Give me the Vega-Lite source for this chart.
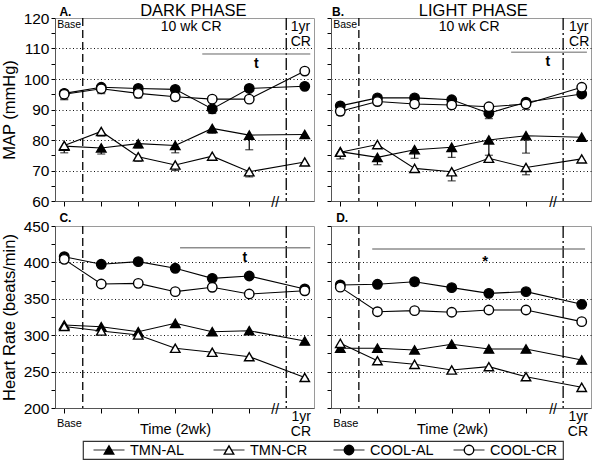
{
  "$schema": "https://vega.github.io/schema/vega-lite/v6.json",
  "padding": {"left": 0, "top": 2, "right": 0, "bottom": 0},
  "autosize": {"type": "pad"},
  "config": {
    "font": "Liberation Sans",
    "view": {"stroke": "#9a9a9a", "strokeWidth": 1},
    "axis": {"domainColor": "#555", "domainWidth": 1, "tickColor": "#000", "tickWidth": 1, "tickSize": 4, "labelFontSize": 15.5, "labelColor": "#000", "labelPadding": 2, "titleFontSize": 16.5, "titleFontWeight": "normal", "titleColor": "#000", "titlePadding": 6, "grid": false}
  },
  "datasets": {
    "series": [
      {"panel": "A", "series": "TMN-AL", "t": 0, "v": 78.0, "lo": 75.8},
      {"panel": "A", "series": "TMN-AL", "t": 1, "v": 77.4, "lo": 75.4},
      {"panel": "A", "series": "TMN-AL", "t": 2, "v": 78.8, "lo": 77.4},
      {"panel": "A", "series": "TMN-AL", "t": 3, "v": 78.2, "lo": 75.8},
      {"panel": "A", "series": "TMN-AL", "t": 4, "v": 83.8, "lo": 82.2},
      {"panel": "A", "series": "TMN-AL", "t": 5, "v": 81.6, "lo": 76.8},
      {"panel": "A", "series": "TMN-AL", "t": 6.5, "v": 81.8, "lo": 80.6},
      {"panel": "A", "series": "TMN-CR", "t": 0, "v": 78.2, "lo": 76.6},
      {"panel": "A", "series": "TMN-CR", "t": 1, "v": 82.8, "lo": 81.3},
      {"panel": "A", "series": "TMN-CR", "t": 2, "v": 74.5, "lo": 73.0},
      {"panel": "A", "series": "TMN-CR", "t": 3, "v": 71.8, "lo": 70.0},
      {"panel": "A", "series": "TMN-CR", "t": 4, "v": 74.7, "lo": 73.8},
      {"panel": "A", "series": "TMN-CR", "t": 5, "v": 69.6, "lo": 67.9},
      {"panel": "A", "series": "TMN-CR", "t": 6.5, "v": 72.8, "lo": 72.0},
      {"panel": "A", "series": "COOL-AL", "t": 0, "v": 95.3, "lo": 93.2},
      {"panel": "A", "series": "COOL-AL", "t": 1, "v": 97.3, "lo": 95.6},
      {"panel": "A", "series": "COOL-AL", "t": 2, "v": 96.9, "lo": 95.9},
      {"panel": "A", "series": "COOL-AL", "t": 3, "v": 96.6, "lo": 95.6},
      {"panel": "A", "series": "COOL-AL", "t": 4, "v": 90.2, "lo": 88.7},
      {"panel": "A", "series": "COOL-AL", "t": 5, "v": 96.9, "lo": 96.0},
      {"panel": "A", "series": "COOL-AL", "t": 6.5, "v": 97.6, "lo": 97.0},
      {"panel": "A", "series": "COOL-CR", "t": 0, "v": 95.0, "lo": 93.5},
      {"panel": "A", "series": "COOL-CR", "t": 1, "v": 96.8, "lo": 95.2},
      {"panel": "A", "series": "COOL-CR", "t": 2, "v": 95.3, "lo": 93.8},
      {"panel": "A", "series": "COOL-CR", "t": 3, "v": 94.2, "lo": 92.9},
      {"panel": "A", "series": "COOL-CR", "t": 4, "v": 93.4, "lo": 92.8},
      {"panel": "A", "series": "COOL-CR", "t": 5, "v": 93.4, "lo": 92.3},
      {"panel": "A", "series": "COOL-CR", "t": 6.5, "v": 102.6, "lo": 102.0},
      {"panel": "B", "series": "TMN-AL", "t": 0, "v": 76.2, "lo": 73.8},
      {"panel": "B", "series": "TMN-AL", "t": 1, "v": 74.3, "lo": 71.9},
      {"panel": "B", "series": "TMN-AL", "t": 2, "v": 76.8, "lo": 74.0},
      {"panel": "B", "series": "TMN-AL", "t": 3, "v": 77.6, "lo": 74.3},
      {"panel": "B", "series": "TMN-AL", "t": 4, "v": 80.0, "lo": 75.0},
      {"panel": "B", "series": "TMN-AL", "t": 5, "v": 81.4, "lo": 75.7},
      {"panel": "B", "series": "TMN-AL", "t": 6.5, "v": 80.9, "lo": 80.0},
      {"panel": "B", "series": "TMN-CR", "t": 0, "v": 76.0, "lo": 75.0},
      {"panel": "B", "series": "TMN-CR", "t": 1, "v": 78.5, "lo": 77.5},
      {"panel": "B", "series": "TMN-CR", "t": 2, "v": 70.7, "lo": 69.5},
      {"panel": "B", "series": "TMN-CR", "t": 3, "v": 69.6, "lo": 66.6},
      {"panel": "B", "series": "TMN-CR", "t": 4, "v": 74.0, "lo": 73.0},
      {"panel": "B", "series": "TMN-CR", "t": 5, "v": 71.0, "lo": 68.6},
      {"panel": "B", "series": "TMN-CR", "t": 6.5, "v": 73.8, "lo": 73.2},
      {"panel": "B", "series": "COOL-AL", "t": 0, "v": 91.2, "lo": 90.0},
      {"panel": "B", "series": "COOL-AL", "t": 1, "v": 93.8, "lo": 93.0},
      {"panel": "B", "series": "COOL-AL", "t": 2, "v": 93.8, "lo": 93.0},
      {"panel": "B", "series": "COOL-AL", "t": 3, "v": 93.2, "lo": 92.0},
      {"panel": "B", "series": "COOL-AL", "t": 4, "v": 88.8, "lo": 87.0},
      {"panel": "B", "series": "COOL-AL", "t": 5, "v": 92.4, "lo": 91.6},
      {"panel": "B", "series": "COOL-AL", "t": 6.5, "v": 95.1, "lo": 94.6},
      {"panel": "B", "series": "COOL-CR", "t": 0, "v": 89.4, "lo": 88.2},
      {"panel": "B", "series": "COOL-CR", "t": 1, "v": 92.6, "lo": 91.8},
      {"panel": "B", "series": "COOL-CR", "t": 2, "v": 91.8, "lo": 90.7},
      {"panel": "B", "series": "COOL-CR", "t": 3, "v": 91.5, "lo": 90.4},
      {"panel": "B", "series": "COOL-CR", "t": 4, "v": 90.9, "lo": 90.2},
      {"panel": "B", "series": "COOL-CR", "t": 5, "v": 91.8, "lo": 90.0},
      {"panel": "B", "series": "COOL-CR", "t": 6.5, "v": 97.3, "lo": 96.8},
      {"panel": "C", "series": "TMN-AL", "t": 0, "v": 314, "lo": 310},
      {"panel": "C", "series": "TMN-AL", "t": 1, "v": 311.7, "lo": 308},
      {"panel": "C", "series": "TMN-AL", "t": 2, "v": 304.8, "lo": 301},
      {"panel": "C", "series": "TMN-AL", "t": 3, "v": 316.3, "lo": 313},
      {"panel": "C", "series": "TMN-AL", "t": 4, "v": 304.8, "lo": 302},
      {"panel": "C", "series": "TMN-AL", "t": 5, "v": 306.2, "lo": 303},
      {"panel": "C", "series": "TMN-AL", "t": 6.5, "v": 292, "lo": 290},
      {"panel": "C", "series": "TMN-CR", "t": 0, "v": 312, "lo": 309},
      {"panel": "C", "series": "TMN-CR", "t": 1, "v": 305.8, "lo": 302},
      {"panel": "C", "series": "TMN-CR", "t": 2, "v": 300.3, "lo": 295.8},
      {"panel": "C", "series": "TMN-CR", "t": 3, "v": 282, "lo": 278},
      {"panel": "C", "series": "TMN-CR", "t": 4, "v": 276.5, "lo": 274},
      {"panel": "C", "series": "TMN-CR", "t": 5, "v": 270.5, "lo": 268},
      {"panel": "C", "series": "TMN-CR", "t": 6.5, "v": 242, "lo": 240},
      {"panel": "C", "series": "COOL-AL", "t": 0, "v": 407.8, "lo": 404},
      {"panel": "C", "series": "COOL-AL", "t": 1, "v": 397.4, "lo": 395},
      {"panel": "C", "series": "COOL-AL", "t": 2, "v": 401, "lo": 398},
      {"panel": "C", "series": "COOL-AL", "t": 3, "v": 391.9, "lo": 388},
      {"panel": "C", "series": "COOL-AL", "t": 4, "v": 378.1, "lo": 375},
      {"panel": "C", "series": "COOL-AL", "t": 5, "v": 381.3, "lo": 379},
      {"panel": "C", "series": "COOL-AL", "t": 6.5, "v": 363.5, "lo": 361},
      {"panel": "C", "series": "COOL-CR", "t": 0, "v": 404.2, "lo": 401},
      {"panel": "C", "series": "COOL-CR", "t": 1, "v": 370.3, "lo": 368},
      {"panel": "C", "series": "COOL-CR", "t": 2, "v": 371.2, "lo": 369},
      {"panel": "C", "series": "COOL-CR", "t": 3, "v": 359.8, "lo": 357},
      {"panel": "C", "series": "COOL-CR", "t": 4, "v": 365.8, "lo": 363},
      {"panel": "C", "series": "COOL-CR", "t": 5, "v": 356.6, "lo": 354},
      {"panel": "C", "series": "COOL-CR", "t": 6.5, "v": 361, "lo": 359},
      {"panel": "D", "series": "TMN-AL", "t": 0, "v": 282, "lo": 279},
      {"panel": "D", "series": "TMN-AL", "t": 1, "v": 282, "lo": 280},
      {"panel": "D", "series": "TMN-AL", "t": 2, "v": 279.7, "lo": 277},
      {"panel": "D", "series": "TMN-AL", "t": 3, "v": 287.5, "lo": 285},
      {"panel": "D", "series": "TMN-AL", "t": 4, "v": 281, "lo": 279},
      {"panel": "D", "series": "TMN-AL", "t": 5, "v": 281, "lo": 279},
      {"panel": "D", "series": "TMN-AL", "t": 6.5, "v": 265.9, "lo": 264},
      {"panel": "D", "series": "TMN-CR", "t": 0, "v": 288.8, "lo": 286},
      {"panel": "D", "series": "TMN-CR", "t": 1, "v": 265, "lo": 260},
      {"panel": "D", "series": "TMN-CR", "t": 2, "v": 260, "lo": 257},
      {"panel": "D", "series": "TMN-CR", "t": 3, "v": 252.2, "lo": 250},
      {"panel": "D", "series": "TMN-CR", "t": 4, "v": 256.8, "lo": 254},
      {"panel": "D", "series": "TMN-CR", "t": 5, "v": 243, "lo": 241},
      {"panel": "D", "series": "TMN-CR", "t": 6.5, "v": 228.4, "lo": 227},
      {"panel": "D", "series": "COOL-AL", "t": 0, "v": 369, "lo": 364},
      {"panel": "D", "series": "COOL-AL", "t": 1, "v": 369.9, "lo": 368},
      {"panel": "D", "series": "COOL-AL", "t": 2, "v": 373.5, "lo": 368},
      {"panel": "D", "series": "COOL-AL", "t": 3, "v": 365.3, "lo": 363},
      {"panel": "D", "series": "COOL-AL", "t": 4, "v": 357.5, "lo": 356},
      {"panel": "D", "series": "COOL-AL", "t": 5, "v": 359.8, "lo": 358},
      {"panel": "D", "series": "COOL-AL", "t": 6.5, "v": 342.4, "lo": 341},
      {"panel": "D", "series": "COOL-CR", "t": 0, "v": 366, "lo": 364},
      {"panel": "D", "series": "COOL-CR", "t": 1, "v": 332.3, "lo": 331},
      {"panel": "D", "series": "COOL-CR", "t": 2, "v": 333.7, "lo": 332},
      {"panel": "D", "series": "COOL-CR", "t": 3, "v": 331.5, "lo": 330},
      {"panel": "D", "series": "COOL-CR", "t": 4, "v": 334.6, "lo": 333},
      {"panel": "D", "series": "COOL-CR", "t": 5, "v": 334.6, "lo": 333},
      {"panel": "D", "series": "COOL-CR", "t": 6.5, "v": 318.6, "lo": 317}
    ],
    "phases": [
      {"x": 0.5, "type": "start"},
      {"x": 6, "type": "break"}
    ],
    "sig": [
      {"panel": "A", "x": 3.73, "x2": 6.65, "y": 108.2, "lx": 5.19, "ly": 104.9, "label": "t"},
      {"panel": "B", "x": 4.6, "x2": 6.64, "y": 108.8, "lx": 5.59, "ly": 105.6, "label": "t"},
      {"panel": "C", "x": 3.13, "x2": 6.65, "y": 420, "lx": 4.88, "ly": 406, "label": "t"},
      {"panel": "D", "x": 0.86, "x2": 6.59, "y": 418.4, "lx": 3.9, "ly": 402, "label": "*"}
    ],
    "notes": [
      {"panel": "A", "x": -0.13, "y": 120.65, "text": "A.", "kind": "panel"},
      {"panel": "A", "x": 3.49, "y": 120.75, "text": "DARK PHASE", "kind": "phase"},
      {"panel": "A", "x": -0.19, "y": 119.4, "text": "Base", "kind": "base"},
      {"panel": "A", "x": 3.43, "y": 119.4, "text": "10 wk CR", "kind": "period"},
      {"panel": "A", "x": 6.12, "y": 119.4, "text": "1yr\nCR", "kind": "year"},
      {"panel": "A", "x": 5.7, "y": 59.3, "text": "//", "kind": "break"},
      {"panel": "B", "x": -0.22, "y": 120.65, "text": "B.", "kind": "panel"},
      {"panel": "B", "x": 3.58, "y": 120.75, "text": "LIGHT PHASE", "kind": "phase"},
      {"panel": "B", "x": -0.19, "y": 119.4, "text": "Base", "kind": "base"},
      {"panel": "B", "x": 3.47, "y": 119.4, "text": "10 wk CR", "kind": "period"},
      {"panel": "B", "x": 6.16, "y": 119.4, "text": "1yr\nCR", "kind": "year"},
      {"panel": "B", "x": 5.73, "y": 59.3, "text": "//", "kind": "break"},
      {"panel": "C", "x": -0.13, "y": 455.9, "text": "C.", "kind": "panel"},
      {"panel": "C", "x": 0.14, "y": 186.3, "text": "Base", "kind": "baseAxis"},
      {"panel": "C", "x": 6.67, "y": 197.9, "text": "1yr\nCR", "kind": "yearAxis"},
      {"panel": "C", "x": 5.7, "y": 197.5, "text": "//", "kind": "break"},
      {"panel": "D", "x": -0.11, "y": 455.9, "text": "D.", "kind": "panel"},
      {"panel": "D", "x": 0.15, "y": 186.3, "text": "Base", "kind": "baseAxis"},
      {"panel": "D", "x": 6.67, "y": 197.9, "text": "1yr\nCR", "kind": "yearAxis"},
      {"panel": "D", "x": 5.73, "y": 197.5, "text": "//", "kind": "break"}
    ],
    "legendItems": [
      {"series": "TMN-AL"}, {"series": "TMN-CR"}, {"series": "COOL-AL"}, {"series": "COOL-CR"}
    ]
  },
  "spacing": 0,
  "vconcat": [
    {
      "spacing": 11,
      "hconcat": [
        {
          "width": 259, "height": 183,
          "layer": [
            {"data": {"name": "phases"}, "mark": {"type": "rule", "color": "black", "strokeWidth": 1.3},
             "encoding": {"x": {"field": "x", "type": "quantitative", "scale": {"domain": [-0.25, 6.75], "nice": false, "zero": false}, "axis": {"values": [0, 1, 2, 3, 4, 5], "labels": false, "title": null, "tickSize": 5}},
               "strokeDash": {"field": "type", "type": "nominal", "scale": {"domain": ["start", "break"], "range": [[8, 4], [12, 3, 2, 3]]}, "legend": null}}},
            {"data": {"name": "sig"}, "transform": [{"filter": "datum.panel == 'A'"}], "mark": {"type": "rule", "color": "#666", "strokeWidth": 1},
             "encoding": {"x": {"field": "x", "type": "quantitative", "scale": {"domain": [-0.25, 6.75], "nice": false, "zero": false}, "axis": {"values": [0, 1, 2, 3, 4, 5], "labels": false, "title": null, "tickSize": 5}}, "x2": {"field": "x2"},
               "y": {"field": "y", "type": "quantitative", "scale": {"domain": [60, 120], "nice": false, "zero": false}, "axis": {"values": [60, 65, 70, 75, 80, 85, 90, 95, 100, 105, 110, 115, 120], "labelExpr": "datum.value % 10 == 0 ? datum.label : ''", "title": "MAP (mmHg)", "grid": true, "gridDash": [1, 2.5], "gridColor": "#111", "gridOpacity": {"condition": {"test": "datum.value % 10 == 0 && datum.value > 60 && datum.value < 120", "value": 1}, "value": 0}}}}},
            {"data": {"name": "sig"}, "transform": [{"filter": "datum.panel == 'A'"}], "mark": {"type": "text", "fontWeight": "bold", "fontSize": 14, "baseline": "middle"},
             "encoding": {"x": {"field": "lx", "type": "quantitative", "scale": {"domain": [-0.25, 6.75], "nice": false, "zero": false}, "axis": {"values": [0, 1, 2, 3, 4, 5], "labels": false, "title": null, "tickSize": 5}},
               "y": {"field": "ly", "type": "quantitative", "scale": {"domain": [60, 120], "nice": false, "zero": false}, "axis": {"values": [60, 65, 70, 75, 80, 85, 90, 95, 100, 105, 110, 115, 120], "labelExpr": "datum.value % 10 == 0 ? datum.label : ''", "title": "MAP (mmHg)", "grid": true, "gridDash": [1, 2.5], "gridColor": "#111", "gridOpacity": {"condition": {"test": "datum.value % 10 == 0 && datum.value > 60 && datum.value < 120", "value": 1}, "value": 0}}}, "text": {"field": "label"}}},
            {"data": {"name": "series"}, "transform": [{"filter": "datum.panel == 'A'"}], "mark": {"type": "line", "color": "black", "strokeWidth": 1.1},
             "encoding": {"x": {"field": "t", "type": "quantitative", "scale": {"domain": [-0.25, 6.75], "nice": false, "zero": false}, "axis": {"values": [0, 1, 2, 3, 4, 5], "labels": false, "title": null, "tickSize": 5}},
               "y": {"field": "v", "type": "quantitative", "scale": {"domain": [60, 120], "nice": false, "zero": false}, "axis": {"values": [60, 65, 70, 75, 80, 85, 90, 95, 100, 105, 110, 115, 120], "labelExpr": "datum.value % 10 == 0 ? datum.label : ''", "title": "MAP (mmHg)", "grid": true, "gridDash": [1, 2.5], "gridColor": "#111", "gridOpacity": {"condition": {"test": "datum.value % 10 == 0 && datum.value > 60 && datum.value < 120", "value": 1}, "value": 0}}},
               "detail": {"field": "series"}}},
            {"data": {"name": "series"}, "transform": [{"filter": "datum.panel == 'A'"}], "mark": {"type": "rule", "color": "black", "strokeWidth": 1.2},
             "encoding": {"x": {"field": "t", "type": "quantitative", "scale": {"domain": [-0.25, 6.75], "nice": false, "zero": false}, "axis": {"values": [0, 1, 2, 3, 4, 5], "labels": false, "title": null, "tickSize": 5}},
               "y": {"field": "lo", "type": "quantitative", "scale": {"domain": [60, 120], "nice": false, "zero": false}, "axis": {"values": [60, 65, 70, 75, 80, 85, 90, 95, 100, 105, 110, 115, 120], "labelExpr": "datum.value % 10 == 0 ? datum.label : ''", "title": "MAP (mmHg)", "grid": true, "gridDash": [1, 2.5], "gridColor": "#111", "gridOpacity": {"condition": {"test": "datum.value % 10 == 0 && datum.value > 60 && datum.value < 120", "value": 1}, "value": 0}}}, "y2": {"field": "v"}}},
            {"data": {"name": "series"}, "transform": [{"filter": "datum.panel == 'A'"}], "mark": {"type": "tick", "orient": "horizontal", "color": "black", "size": 8, "thickness": 1.2},
             "encoding": {"x": {"field": "t", "type": "quantitative", "scale": {"domain": [-0.25, 6.75], "nice": false, "zero": false}, "axis": {"values": [0, 1, 2, 3, 4, 5], "labels": false, "title": null, "tickSize": 5}},
               "y": {"field": "lo", "type": "quantitative", "scale": {"domain": [60, 120], "nice": false, "zero": false}, "axis": {"values": [60, 65, 70, 75, 80, 85, 90, 95, 100, 105, 110, 115, 120], "labelExpr": "datum.value % 10 == 0 ? datum.label : ''", "title": "MAP (mmHg)", "grid": true, "gridDash": [1, 2.5], "gridColor": "#111", "gridOpacity": {"condition": {"test": "datum.value % 10 == 0 && datum.value > 60 && datum.value < 120", "value": 1}, "value": 0}}}}},
            {"data": {"name": "series"}, "transform": [{"filter": "datum.panel == 'A'"}], "mark": {"type": "point", "filled": true, "size": 90, "stroke": "black", "strokeWidth": 1.4, "opacity": 1},
             "encoding": {"x": {"field": "t", "type": "quantitative", "scale": {"domain": [-0.25, 6.75], "nice": false, "zero": false}, "axis": {"values": [0, 1, 2, 3, 4, 5], "labels": false, "title": null, "tickSize": 5}},
               "y": {"field": "v", "type": "quantitative", "scale": {"domain": [60, 120], "nice": false, "zero": false}, "axis": {"values": [60, 65, 70, 75, 80, 85, 90, 95, 100, 105, 110, 115, 120], "labelExpr": "datum.value % 10 == 0 ? datum.label : ''", "title": "MAP (mmHg)", "grid": true, "gridDash": [1, 2.5], "gridColor": "#111", "gridOpacity": {"condition": {"test": "datum.value % 10 == 0 && datum.value > 60 && datum.value < 120", "value": 1}, "value": 0}}},
               "shape": {"field": "series", "type": "nominal", "scale": {"domain": ["TMN-AL", "TMN-CR", "COOL-AL", "COOL-CR"], "range": ["triangle-up", "triangle-up", "circle", "circle"]}, "legend": null},
               "fill": {"field": "series", "type": "nominal", "scale": {"domain": ["TMN-AL", "TMN-CR", "COOL-AL", "COOL-CR"], "range": ["black", "white", "black", "white"]}, "legend": null}}},
            {"data": {"name": "notes"}, "transform": [{"filter": "datum.panel == 'A' && datum.kind == 'panel'"}], "mark": {"type": "text", "fontWeight": "bold", "fontSize": 12, "align": "left", "baseline": "alphabetic"},
             "encoding": {"x": {"field": "x", "type": "quantitative", "scale": {"domain": [-0.25, 6.75], "nice": false, "zero": false}, "axis": {"values": [0, 1, 2, 3, 4, 5], "labels": false, "title": null, "tickSize": 5}},
               "y": {"field": "y", "type": "quantitative", "scale": {"domain": [60, 120], "nice": false, "zero": false}, "axis": {"values": [60, 65, 70, 75, 80, 85, 90, 95, 100, 105, 110, 115, 120], "labelExpr": "datum.value % 10 == 0 ? datum.label : ''", "title": "MAP (mmHg)", "grid": true, "gridDash": [1, 2.5], "gridColor": "#111", "gridOpacity": {"condition": {"test": "datum.value % 10 == 0 && datum.value > 60 && datum.value < 120", "value": 1}, "value": 0}}}, "text": {"field": "text"}}},
            {"data": {"name": "notes"}, "transform": [{"filter": "datum.panel == 'A' && datum.kind == 'phase'"}], "mark": {"type": "text", "fontSize": 16.5, "align": "center", "baseline": "alphabetic"},
             "encoding": {"x": {"field": "x", "type": "quantitative", "scale": {"domain": [-0.25, 6.75], "nice": false, "zero": false}, "axis": {"values": [0, 1, 2, 3, 4, 5], "labels": false, "title": null, "tickSize": 5}},
               "y": {"field": "y", "type": "quantitative", "scale": {"domain": [60, 120], "nice": false, "zero": false}, "axis": {"values": [60, 65, 70, 75, 80, 85, 90, 95, 100, 105, 110, 115, 120], "labelExpr": "datum.value % 10 == 0 ? datum.label : ''", "title": "MAP (mmHg)", "grid": true, "gridDash": [1, 2.5], "gridColor": "#111", "gridOpacity": {"condition": {"test": "datum.value % 10 == 0 && datum.value > 60 && datum.value < 120", "value": 1}, "value": 0}}}, "text": {"field": "text"}}},
            {"data": {"name": "notes"}, "transform": [{"filter": "datum.panel == 'A' && datum.kind == 'base'"}], "mark": {"type": "text", "fontSize": 10.5, "align": "left", "baseline": "top"},
             "encoding": {"x": {"field": "x", "type": "quantitative", "scale": {"domain": [-0.25, 6.75], "nice": false, "zero": false}, "axis": {"values": [0, 1, 2, 3, 4, 5], "labels": false, "title": null, "tickSize": 5}},
               "y": {"field": "y", "type": "quantitative", "scale": {"domain": [60, 120], "nice": false, "zero": false}, "axis": {"values": [60, 65, 70, 75, 80, 85, 90, 95, 100, 105, 110, 115, 120], "labelExpr": "datum.value % 10 == 0 ? datum.label : ''", "title": "MAP (mmHg)", "grid": true, "gridDash": [1, 2.5], "gridColor": "#111", "gridOpacity": {"condition": {"test": "datum.value % 10 == 0 && datum.value > 60 && datum.value < 120", "value": 1}, "value": 0}}}, "text": {"field": "text"}}},
            {"data": {"name": "notes"}, "transform": [{"filter": "datum.panel == 'A' && datum.kind == 'period'"}], "mark": {"type": "text", "fontSize": 14, "align": "center", "baseline": "top"},
             "encoding": {"x": {"field": "x", "type": "quantitative", "scale": {"domain": [-0.25, 6.75], "nice": false, "zero": false}, "axis": {"values": [0, 1, 2, 3, 4, 5], "labels": false, "title": null, "tickSize": 5}},
               "y": {"field": "y", "type": "quantitative", "scale": {"domain": [60, 120], "nice": false, "zero": false}, "axis": {"values": [60, 65, 70, 75, 80, 85, 90, 95, 100, 105, 110, 115, 120], "labelExpr": "datum.value % 10 == 0 ? datum.label : ''", "title": "MAP (mmHg)", "grid": true, "gridDash": [1, 2.5], "gridColor": "#111", "gridOpacity": {"condition": {"test": "datum.value % 10 == 0 && datum.value > 60 && datum.value < 120", "value": 1}, "value": 0}}}, "text": {"field": "text"}}},
            {"data": {"name": "notes"}, "transform": [{"filter": "datum.panel == 'A' && datum.kind == 'year'"}], "mark": {"type": "text", "fontSize": 14, "align": "left", "baseline": "top", "lineBreak": "\n", "lineHeight": 15},
             "encoding": {"x": {"field": "x", "type": "quantitative", "scale": {"domain": [-0.25, 6.75], "nice": false, "zero": false}, "axis": {"values": [0, 1, 2, 3, 4, 5], "labels": false, "title": null, "tickSize": 5}},
               "y": {"field": "y", "type": "quantitative", "scale": {"domain": [60, 120], "nice": false, "zero": false}, "axis": {"values": [60, 65, 70, 75, 80, 85, 90, 95, 100, 105, 110, 115, 120], "labelExpr": "datum.value % 10 == 0 ? datum.label : ''", "title": "MAP (mmHg)", "grid": true, "gridDash": [1, 2.5], "gridColor": "#111", "gridOpacity": {"condition": {"test": "datum.value % 10 == 0 && datum.value > 60 && datum.value < 120", "value": 1}, "value": 0}}}, "text": {"field": "text"}}},
            {"data": {"name": "notes"}, "transform": [{"filter": "datum.panel == 'A' && datum.kind == 'break'"}], "mark": {"type": "text", "fontSize": 14, "align": "center", "baseline": "middle"},
             "encoding": {"x": {"field": "x", "type": "quantitative", "scale": {"domain": [-0.25, 6.75], "nice": false, "zero": false}, "axis": {"values": [0, 1, 2, 3, 4, 5], "labels": false, "title": null, "tickSize": 5}},
               "y": {"field": "y", "type": "quantitative", "scale": {"domain": [60, 120], "nice": false, "zero": false}, "axis": {"values": [60, 65, 70, 75, 80, 85, 90, 95, 100, 105, 110, 115, 120], "labelExpr": "datum.value % 10 == 0 ? datum.label : ''", "title": "MAP (mmHg)", "grid": true, "gridDash": [1, 2.5], "gridColor": "#111", "gridOpacity": {"condition": {"test": "datum.value % 10 == 0 && datum.value > 60 && datum.value < 120", "value": 1}, "value": 0}}}, "text": {"field": "text"}}}
          ]
        },
        {
          "width": 260, "height": 183,
          "layer": [
            {"data": {"name": "phases"}, "mark": {"type": "rule", "color": "black", "strokeWidth": 1.3},
             "encoding": {"x": {"field": "x", "type": "quantitative", "scale": {"domain": [-0.25, 6.75], "nice": false, "zero": false}, "axis": {"values": [0, 1, 2, 3, 4, 5], "labels": false, "title": null, "tickSize": 5}},
               "strokeDash": {"field": "type", "type": "nominal", "scale": {"domain": ["start", "break"], "range": [[8, 4], [12, 3, 2, 3]]}, "legend": null}}},
            {"data": {"name": "sig"}, "transform": [{"filter": "datum.panel == 'B'"}], "mark": {"type": "rule", "color": "#666", "strokeWidth": 1},
             "encoding": {"x": {"field": "x", "type": "quantitative", "scale": {"domain": [-0.25, 6.75], "nice": false, "zero": false}, "axis": {"values": [0, 1, 2, 3, 4, 5], "labels": false, "title": null, "tickSize": 5}}, "x2": {"field": "x2"},
               "y": {"field": "y", "type": "quantitative", "scale": {"domain": [60, 120], "nice": false, "zero": false}, "axis": {"values": [60, 65, 70, 75, 80, 85, 90, 95, 100, 105, 110, 115, 120], "labels": false, "title": null, "grid": true, "gridDash": [1, 2.5], "gridColor": "#111", "gridOpacity": {"condition": {"test": "datum.value % 10 == 0 && datum.value > 60 && datum.value < 120", "value": 1}, "value": 0}}}}},
            {"data": {"name": "sig"}, "transform": [{"filter": "datum.panel == 'B'"}], "mark": {"type": "text", "fontWeight": "bold", "fontSize": 14, "baseline": "middle"},
             "encoding": {"x": {"field": "lx", "type": "quantitative", "scale": {"domain": [-0.25, 6.75], "nice": false, "zero": false}, "axis": {"values": [0, 1, 2, 3, 4, 5], "labels": false, "title": null, "tickSize": 5}},
               "y": {"field": "ly", "type": "quantitative", "scale": {"domain": [60, 120], "nice": false, "zero": false}, "axis": {"values": [60, 65, 70, 75, 80, 85, 90, 95, 100, 105, 110, 115, 120], "labels": false, "title": null, "grid": true, "gridDash": [1, 2.5], "gridColor": "#111", "gridOpacity": {"condition": {"test": "datum.value % 10 == 0 && datum.value > 60 && datum.value < 120", "value": 1}, "value": 0}}}, "text": {"field": "label"}}},
            {"data": {"name": "series"}, "transform": [{"filter": "datum.panel == 'B'"}], "mark": {"type": "line", "color": "black", "strokeWidth": 1.1},
             "encoding": {"x": {"field": "t", "type": "quantitative", "scale": {"domain": [-0.25, 6.75], "nice": false, "zero": false}, "axis": {"values": [0, 1, 2, 3, 4, 5], "labels": false, "title": null, "tickSize": 5}},
               "y": {"field": "v", "type": "quantitative", "scale": {"domain": [60, 120], "nice": false, "zero": false}, "axis": {"values": [60, 65, 70, 75, 80, 85, 90, 95, 100, 105, 110, 115, 120], "labels": false, "title": null, "grid": true, "gridDash": [1, 2.5], "gridColor": "#111", "gridOpacity": {"condition": {"test": "datum.value % 10 == 0 && datum.value > 60 && datum.value < 120", "value": 1}, "value": 0}}},
               "detail": {"field": "series"}}},
            {"data": {"name": "series"}, "transform": [{"filter": "datum.panel == 'B'"}], "mark": {"type": "rule", "color": "black", "strokeWidth": 1.2},
             "encoding": {"x": {"field": "t", "type": "quantitative", "scale": {"domain": [-0.25, 6.75], "nice": false, "zero": false}, "axis": {"values": [0, 1, 2, 3, 4, 5], "labels": false, "title": null, "tickSize": 5}},
               "y": {"field": "lo", "type": "quantitative", "scale": {"domain": [60, 120], "nice": false, "zero": false}, "axis": {"values": [60, 65, 70, 75, 80, 85, 90, 95, 100, 105, 110, 115, 120], "labels": false, "title": null, "grid": true, "gridDash": [1, 2.5], "gridColor": "#111", "gridOpacity": {"condition": {"test": "datum.value % 10 == 0 && datum.value > 60 && datum.value < 120", "value": 1}, "value": 0}}}, "y2": {"field": "v"}}},
            {"data": {"name": "series"}, "transform": [{"filter": "datum.panel == 'B'"}], "mark": {"type": "tick", "orient": "horizontal", "color": "black", "size": 8, "thickness": 1.2},
             "encoding": {"x": {"field": "t", "type": "quantitative", "scale": {"domain": [-0.25, 6.75], "nice": false, "zero": false}, "axis": {"values": [0, 1, 2, 3, 4, 5], "labels": false, "title": null, "tickSize": 5}},
               "y": {"field": "lo", "type": "quantitative", "scale": {"domain": [60, 120], "nice": false, "zero": false}, "axis": {"values": [60, 65, 70, 75, 80, 85, 90, 95, 100, 105, 110, 115, 120], "labels": false, "title": null, "grid": true, "gridDash": [1, 2.5], "gridColor": "#111", "gridOpacity": {"condition": {"test": "datum.value % 10 == 0 && datum.value > 60 && datum.value < 120", "value": 1}, "value": 0}}}}},
            {"data": {"name": "series"}, "transform": [{"filter": "datum.panel == 'B'"}], "mark": {"type": "point", "filled": true, "size": 90, "stroke": "black", "strokeWidth": 1.4, "opacity": 1},
             "encoding": {"x": {"field": "t", "type": "quantitative", "scale": {"domain": [-0.25, 6.75], "nice": false, "zero": false}, "axis": {"values": [0, 1, 2, 3, 4, 5], "labels": false, "title": null, "tickSize": 5}},
               "y": {"field": "v", "type": "quantitative", "scale": {"domain": [60, 120], "nice": false, "zero": false}, "axis": {"values": [60, 65, 70, 75, 80, 85, 90, 95, 100, 105, 110, 115, 120], "labels": false, "title": null, "grid": true, "gridDash": [1, 2.5], "gridColor": "#111", "gridOpacity": {"condition": {"test": "datum.value % 10 == 0 && datum.value > 60 && datum.value < 120", "value": 1}, "value": 0}}},
               "shape": {"field": "series", "type": "nominal", "scale": {"domain": ["TMN-AL", "TMN-CR", "COOL-AL", "COOL-CR"], "range": ["triangle-up", "triangle-up", "circle", "circle"]}, "legend": null},
               "fill": {"field": "series", "type": "nominal", "scale": {"domain": ["TMN-AL", "TMN-CR", "COOL-AL", "COOL-CR"], "range": ["black", "white", "black", "white"]}, "legend": null}}},
            {"data": {"name": "notes"}, "transform": [{"filter": "datum.panel == 'B' && datum.kind == 'panel'"}], "mark": {"type": "text", "fontWeight": "bold", "fontSize": 12, "align": "left", "baseline": "alphabetic"},
             "encoding": {"x": {"field": "x", "type": "quantitative", "scale": {"domain": [-0.25, 6.75], "nice": false, "zero": false}, "axis": {"values": [0, 1, 2, 3, 4, 5], "labels": false, "title": null, "tickSize": 5}},
               "y": {"field": "y", "type": "quantitative", "scale": {"domain": [60, 120], "nice": false, "zero": false}, "axis": {"values": [60, 65, 70, 75, 80, 85, 90, 95, 100, 105, 110, 115, 120], "labels": false, "title": null, "grid": true, "gridDash": [1, 2.5], "gridColor": "#111", "gridOpacity": {"condition": {"test": "datum.value % 10 == 0 && datum.value > 60 && datum.value < 120", "value": 1}, "value": 0}}}, "text": {"field": "text"}}},
            {"data": {"name": "notes"}, "transform": [{"filter": "datum.panel == 'B' && datum.kind == 'phase'"}], "mark": {"type": "text", "fontSize": 16.5, "align": "center", "baseline": "alphabetic"},
             "encoding": {"x": {"field": "x", "type": "quantitative", "scale": {"domain": [-0.25, 6.75], "nice": false, "zero": false}, "axis": {"values": [0, 1, 2, 3, 4, 5], "labels": false, "title": null, "tickSize": 5}},
               "y": {"field": "y", "type": "quantitative", "scale": {"domain": [60, 120], "nice": false, "zero": false}, "axis": {"values": [60, 65, 70, 75, 80, 85, 90, 95, 100, 105, 110, 115, 120], "labels": false, "title": null, "grid": true, "gridDash": [1, 2.5], "gridColor": "#111", "gridOpacity": {"condition": {"test": "datum.value % 10 == 0 && datum.value > 60 && datum.value < 120", "value": 1}, "value": 0}}}, "text": {"field": "text"}}},
            {"data": {"name": "notes"}, "transform": [{"filter": "datum.panel == 'B' && datum.kind == 'base'"}], "mark": {"type": "text", "fontSize": 10.5, "align": "left", "baseline": "top"},
             "encoding": {"x": {"field": "x", "type": "quantitative", "scale": {"domain": [-0.25, 6.75], "nice": false, "zero": false}, "axis": {"values": [0, 1, 2, 3, 4, 5], "labels": false, "title": null, "tickSize": 5}},
               "y": {"field": "y", "type": "quantitative", "scale": {"domain": [60, 120], "nice": false, "zero": false}, "axis": {"values": [60, 65, 70, 75, 80, 85, 90, 95, 100, 105, 110, 115, 120], "labels": false, "title": null, "grid": true, "gridDash": [1, 2.5], "gridColor": "#111", "gridOpacity": {"condition": {"test": "datum.value % 10 == 0 && datum.value > 60 && datum.value < 120", "value": 1}, "value": 0}}}, "text": {"field": "text"}}},
            {"data": {"name": "notes"}, "transform": [{"filter": "datum.panel == 'B' && datum.kind == 'period'"}], "mark": {"type": "text", "fontSize": 14, "align": "center", "baseline": "top"},
             "encoding": {"x": {"field": "x", "type": "quantitative", "scale": {"domain": [-0.25, 6.75], "nice": false, "zero": false}, "axis": {"values": [0, 1, 2, 3, 4, 5], "labels": false, "title": null, "tickSize": 5}},
               "y": {"field": "y", "type": "quantitative", "scale": {"domain": [60, 120], "nice": false, "zero": false}, "axis": {"values": [60, 65, 70, 75, 80, 85, 90, 95, 100, 105, 110, 115, 120], "labels": false, "title": null, "grid": true, "gridDash": [1, 2.5], "gridColor": "#111", "gridOpacity": {"condition": {"test": "datum.value % 10 == 0 && datum.value > 60 && datum.value < 120", "value": 1}, "value": 0}}}, "text": {"field": "text"}}},
            {"data": {"name": "notes"}, "transform": [{"filter": "datum.panel == 'B' && datum.kind == 'year'"}], "mark": {"type": "text", "fontSize": 14, "align": "left", "baseline": "top", "lineBreak": "\n", "lineHeight": 15},
             "encoding": {"x": {"field": "x", "type": "quantitative", "scale": {"domain": [-0.25, 6.75], "nice": false, "zero": false}, "axis": {"values": [0, 1, 2, 3, 4, 5], "labels": false, "title": null, "tickSize": 5}},
               "y": {"field": "y", "type": "quantitative", "scale": {"domain": [60, 120], "nice": false, "zero": false}, "axis": {"values": [60, 65, 70, 75, 80, 85, 90, 95, 100, 105, 110, 115, 120], "labels": false, "title": null, "grid": true, "gridDash": [1, 2.5], "gridColor": "#111", "gridOpacity": {"condition": {"test": "datum.value % 10 == 0 && datum.value > 60 && datum.value < 120", "value": 1}, "value": 0}}}, "text": {"field": "text"}}},
            {"data": {"name": "notes"}, "transform": [{"filter": "datum.panel == 'B' && datum.kind == 'break'"}], "mark": {"type": "text", "fontSize": 14, "align": "center", "baseline": "middle"},
             "encoding": {"x": {"field": "x", "type": "quantitative", "scale": {"domain": [-0.25, 6.75], "nice": false, "zero": false}, "axis": {"values": [0, 1, 2, 3, 4, 5], "labels": false, "title": null, "tickSize": 5}},
               "y": {"field": "y", "type": "quantitative", "scale": {"domain": [60, 120], "nice": false, "zero": false}, "axis": {"values": [60, 65, 70, 75, 80, 85, 90, 95, 100, 105, 110, 115, 120], "labels": false, "title": null, "grid": true, "gridDash": [1, 2.5], "gridColor": "#111", "gridOpacity": {"condition": {"test": "datum.value % 10 == 0 && datum.value > 60 && datum.value < 120", "value": 1}, "value": 0}}}, "text": {"field": "text"}}}
          ]
        }
      ]
    },
    {
      "spacing": 11,
      "hconcat": [
        {
          "width": 259, "height": 182,
          "layer": [
            {"data": {"name": "phases"}, "mark": {"type": "rule", "color": "black", "strokeWidth": 1.3},
             "encoding": {"x": {"field": "x", "type": "quantitative", "scale": {"domain": [-0.25, 6.75], "nice": false, "zero": false}, "axis": {"values": [0, 1, 2, 3, 4, 5], "labels": false, "title": "Time (2wk)", "titleFontSize": 14.5, "titleX": 120, "titleY": 25, "titleAlign": "center", "titleBaseline": "alphabetic", "tickSize": 5}},
               "strokeDash": {"field": "type", "type": "nominal", "scale": {"domain": ["start", "break"], "range": [[8, 4], [12, 3, 2, 3]]}, "legend": null}}},
            {"data": {"name": "sig"}, "transform": [{"filter": "datum.panel == 'C'"}], "mark": {"type": "rule", "color": "#555", "strokeWidth": 1},
             "encoding": {"x": {"field": "x", "type": "quantitative", "scale": {"domain": [-0.25, 6.75], "nice": false, "zero": false}, "axis": {"values": [0, 1, 2, 3, 4, 5], "labels": false, "title": "Time (2wk)", "titleFontSize": 14.5, "titleX": 120, "titleY": 25, "titleAlign": "center", "titleBaseline": "alphabetic", "tickSize": 5}}, "x2": {"field": "x2"},
               "y": {"field": "y", "type": "quantitative", "scale": {"domain": [200, 450], "nice": false, "zero": false}, "axis": {"values": [200, 225, 250, 275, 300, 325, 350, 375, 400, 425, 450], "labelExpr": "datum.value % 50 == 0 ? datum.label : ''", "title": "Heart Rate (beats/min)", "grid": true, "gridDash": [1, 2.5], "gridColor": "#111", "gridOpacity": {"condition": {"test": "datum.value % 50 == 0 && datum.value > 200 && datum.value < 450", "value": 1}, "value": 0}}}}},
            {"data": {"name": "sig"}, "transform": [{"filter": "datum.panel == 'C'"}], "mark": {"type": "text", "fontWeight": "bold", "fontSize": 14, "baseline": "middle"},
             "encoding": {"x": {"field": "lx", "type": "quantitative", "scale": {"domain": [-0.25, 6.75], "nice": false, "zero": false}, "axis": {"values": [0, 1, 2, 3, 4, 5], "labels": false, "title": "Time (2wk)", "titleFontSize": 14.5, "titleX": 120, "titleY": 25, "titleAlign": "center", "titleBaseline": "alphabetic", "tickSize": 5}},
               "y": {"field": "ly", "type": "quantitative", "scale": {"domain": [200, 450], "nice": false, "zero": false}, "axis": {"values": [200, 225, 250, 275, 300, 325, 350, 375, 400, 425, 450], "labelExpr": "datum.value % 50 == 0 ? datum.label : ''", "title": "Heart Rate (beats/min)", "grid": true, "gridDash": [1, 2.5], "gridColor": "#111", "gridOpacity": {"condition": {"test": "datum.value % 50 == 0 && datum.value > 200 && datum.value < 450", "value": 1}, "value": 0}}}, "text": {"field": "label"}}},
            {"data": {"name": "series"}, "transform": [{"filter": "datum.panel == 'C'"}], "mark": {"type": "line", "color": "black", "strokeWidth": 1.1},
             "encoding": {"x": {"field": "t", "type": "quantitative", "scale": {"domain": [-0.25, 6.75], "nice": false, "zero": false}, "axis": {"values": [0, 1, 2, 3, 4, 5], "labels": false, "title": "Time (2wk)", "titleFontSize": 14.5, "titleX": 120, "titleY": 25, "titleAlign": "center", "titleBaseline": "alphabetic", "tickSize": 5}},
               "y": {"field": "v", "type": "quantitative", "scale": {"domain": [200, 450], "nice": false, "zero": false}, "axis": {"values": [200, 225, 250, 275, 300, 325, 350, 375, 400, 425, 450], "labelExpr": "datum.value % 50 == 0 ? datum.label : ''", "title": "Heart Rate (beats/min)", "grid": true, "gridDash": [1, 2.5], "gridColor": "#111", "gridOpacity": {"condition": {"test": "datum.value % 50 == 0 && datum.value > 200 && datum.value < 450", "value": 1}, "value": 0}}},
               "detail": {"field": "series"}}},
            {"data": {"name": "series"}, "transform": [{"filter": "datum.panel == 'C'"}], "mark": {"type": "rule", "color": "black", "strokeWidth": 1.2},
             "encoding": {"x": {"field": "t", "type": "quantitative", "scale": {"domain": [-0.25, 6.75], "nice": false, "zero": false}, "axis": {"values": [0, 1, 2, 3, 4, 5], "labels": false, "title": "Time (2wk)", "titleFontSize": 14.5, "titleX": 120, "titleY": 25, "titleAlign": "center", "titleBaseline": "alphabetic", "tickSize": 5}},
               "y": {"field": "lo", "type": "quantitative", "scale": {"domain": [200, 450], "nice": false, "zero": false}, "axis": {"values": [200, 225, 250, 275, 300, 325, 350, 375, 400, 425, 450], "labelExpr": "datum.value % 50 == 0 ? datum.label : ''", "title": "Heart Rate (beats/min)", "grid": true, "gridDash": [1, 2.5], "gridColor": "#111", "gridOpacity": {"condition": {"test": "datum.value % 50 == 0 && datum.value > 200 && datum.value < 450", "value": 1}, "value": 0}}}, "y2": {"field": "v"}}},
            {"data": {"name": "series"}, "transform": [{"filter": "datum.panel == 'C'"}], "mark": {"type": "tick", "orient": "horizontal", "color": "black", "size": 8, "thickness": 1.2},
             "encoding": {"x": {"field": "t", "type": "quantitative", "scale": {"domain": [-0.25, 6.75], "nice": false, "zero": false}, "axis": {"values": [0, 1, 2, 3, 4, 5], "labels": false, "title": "Time (2wk)", "titleFontSize": 14.5, "titleX": 120, "titleY": 25, "titleAlign": "center", "titleBaseline": "alphabetic", "tickSize": 5}},
               "y": {"field": "lo", "type": "quantitative", "scale": {"domain": [200, 450], "nice": false, "zero": false}, "axis": {"values": [200, 225, 250, 275, 300, 325, 350, 375, 400, 425, 450], "labelExpr": "datum.value % 50 == 0 ? datum.label : ''", "title": "Heart Rate (beats/min)", "grid": true, "gridDash": [1, 2.5], "gridColor": "#111", "gridOpacity": {"condition": {"test": "datum.value % 50 == 0 && datum.value > 200 && datum.value < 450", "value": 1}, "value": 0}}}}},
            {"data": {"name": "series"}, "transform": [{"filter": "datum.panel == 'C'"}], "mark": {"type": "point", "filled": true, "size": 90, "stroke": "black", "strokeWidth": 1.4, "opacity": 1},
             "encoding": {"x": {"field": "t", "type": "quantitative", "scale": {"domain": [-0.25, 6.75], "nice": false, "zero": false}, "axis": {"values": [0, 1, 2, 3, 4, 5], "labels": false, "title": "Time (2wk)", "titleFontSize": 14.5, "titleX": 120, "titleY": 25, "titleAlign": "center", "titleBaseline": "alphabetic", "tickSize": 5}},
               "y": {"field": "v", "type": "quantitative", "scale": {"domain": [200, 450], "nice": false, "zero": false}, "axis": {"values": [200, 225, 250, 275, 300, 325, 350, 375, 400, 425, 450], "labelExpr": "datum.value % 50 == 0 ? datum.label : ''", "title": "Heart Rate (beats/min)", "grid": true, "gridDash": [1, 2.5], "gridColor": "#111", "gridOpacity": {"condition": {"test": "datum.value % 50 == 0 && datum.value > 200 && datum.value < 450", "value": 1}, "value": 0}}},
               "shape": {"field": "series", "type": "nominal", "scale": {"domain": ["TMN-AL", "TMN-CR", "COOL-AL", "COOL-CR"], "range": ["triangle-up", "triangle-up", "circle", "circle"]}, "legend": null},
               "fill": {"field": "series", "type": "nominal", "scale": {"domain": ["TMN-AL", "TMN-CR", "COOL-AL", "COOL-CR"], "range": ["black", "white", "black", "white"]}, "legend": null}}},
            {"data": {"name": "notes"}, "transform": [{"filter": "datum.panel == 'C' && datum.kind == 'panel'"}], "mark": {"type": "text", "fontWeight": "bold", "fontSize": 12, "align": "left", "baseline": "alphabetic"},
             "encoding": {"x": {"field": "x", "type": "quantitative", "scale": {"domain": [-0.25, 6.75], "nice": false, "zero": false}, "axis": {"values": [0, 1, 2, 3, 4, 5], "labels": false, "title": "Time (2wk)", "titleFontSize": 14.5, "titleX": 120, "titleY": 25, "titleAlign": "center", "titleBaseline": "alphabetic", "tickSize": 5}},
               "y": {"field": "y", "type": "quantitative", "scale": {"domain": [200, 450], "nice": false, "zero": false}, "axis": {"values": [200, 225, 250, 275, 300, 325, 350, 375, 400, 425, 450], "labelExpr": "datum.value % 50 == 0 ? datum.label : ''", "title": "Heart Rate (beats/min)", "grid": true, "gridDash": [1, 2.5], "gridColor": "#111", "gridOpacity": {"condition": {"test": "datum.value % 50 == 0 && datum.value > 200 && datum.value < 450", "value": 1}, "value": 0}}}, "text": {"field": "text"}}},
            {"data": {"name": "notes"}, "transform": [{"filter": "datum.panel == 'C' && datum.kind == 'baseAxis'"}], "mark": {"type": "text", "fontSize": 11, "align": "center", "baseline": "top"},
             "encoding": {"x": {"field": "x", "type": "quantitative", "scale": {"domain": [-0.25, 6.75], "nice": false, "zero": false}, "axis": {"values": [0, 1, 2, 3, 4, 5], "labels": false, "title": "Time (2wk)", "titleFontSize": 14.5, "titleX": 120, "titleY": 25, "titleAlign": "center", "titleBaseline": "alphabetic", "tickSize": 5}},
               "y": {"field": "y", "type": "quantitative", "scale": {"domain": [200, 450], "nice": false, "zero": false}, "axis": {"values": [200, 225, 250, 275, 300, 325, 350, 375, 400, 425, 450], "labelExpr": "datum.value % 50 == 0 ? datum.label : ''", "title": "Heart Rate (beats/min)", "grid": true, "gridDash": [1, 2.5], "gridColor": "#111", "gridOpacity": {"condition": {"test": "datum.value % 50 == 0 && datum.value > 200 && datum.value < 450", "value": 1}, "value": 0}}}, "text": {"field": "text"}}},
            {"data": {"name": "notes"}, "transform": [{"filter": "datum.panel == 'C' && datum.kind == 'yearAxis'"}], "mark": {"type": "text", "fontSize": 14, "align": "right", "baseline": "top", "lineBreak": "\n", "lineHeight": 15},
             "encoding": {"x": {"field": "x", "type": "quantitative", "scale": {"domain": [-0.25, 6.75], "nice": false, "zero": false}, "axis": {"values": [0, 1, 2, 3, 4, 5], "labels": false, "title": "Time (2wk)", "titleFontSize": 14.5, "titleX": 120, "titleY": 25, "titleAlign": "center", "titleBaseline": "alphabetic", "tickSize": 5}},
               "y": {"field": "y", "type": "quantitative", "scale": {"domain": [200, 450], "nice": false, "zero": false}, "axis": {"values": [200, 225, 250, 275, 300, 325, 350, 375, 400, 425, 450], "labelExpr": "datum.value % 50 == 0 ? datum.label : ''", "title": "Heart Rate (beats/min)", "grid": true, "gridDash": [1, 2.5], "gridColor": "#111", "gridOpacity": {"condition": {"test": "datum.value % 50 == 0 && datum.value > 200 && datum.value < 450", "value": 1}, "value": 0}}}, "text": {"field": "text"}}},
            {"data": {"name": "notes"}, "transform": [{"filter": "datum.panel == 'C' && datum.kind == 'break'"}], "mark": {"type": "text", "fontSize": 14, "align": "center", "baseline": "middle"},
             "encoding": {"x": {"field": "x", "type": "quantitative", "scale": {"domain": [-0.25, 6.75], "nice": false, "zero": false}, "axis": {"values": [0, 1, 2, 3, 4, 5], "labels": false, "title": "Time (2wk)", "titleFontSize": 14.5, "titleX": 120, "titleY": 25, "titleAlign": "center", "titleBaseline": "alphabetic", "tickSize": 5}},
               "y": {"field": "y", "type": "quantitative", "scale": {"domain": [200, 450], "nice": false, "zero": false}, "axis": {"values": [200, 225, 250, 275, 300, 325, 350, 375, 400, 425, 450], "labelExpr": "datum.value % 50 == 0 ? datum.label : ''", "title": "Heart Rate (beats/min)", "grid": true, "gridDash": [1, 2.5], "gridColor": "#111", "gridOpacity": {"condition": {"test": "datum.value % 50 == 0 && datum.value > 200 && datum.value < 450", "value": 1}, "value": 0}}}, "text": {"field": "text"}}}
          ]
        },
        {
          "width": 260, "height": 182,
          "layer": [
            {"data": {"name": "phases"}, "mark": {"type": "rule", "color": "black", "strokeWidth": 1.3},
             "encoding": {"x": {"field": "x", "type": "quantitative", "scale": {"domain": [-0.25, 6.75], "nice": false, "zero": false}, "axis": {"values": [0, 1, 2, 3, 4, 5], "labels": false, "title": "Time (2wk)", "titleFontSize": 14.5, "titleX": 121, "titleY": 25, "titleAlign": "center", "titleBaseline": "alphabetic", "tickSize": 5}},
               "strokeDash": {"field": "type", "type": "nominal", "scale": {"domain": ["start", "break"], "range": [[8, 4], [12, 3, 2, 3]]}, "legend": null}}},
            {"data": {"name": "sig"}, "transform": [{"filter": "datum.panel == 'D'"}], "mark": {"type": "rule", "color": "#555", "strokeWidth": 1},
             "encoding": {"x": {"field": "x", "type": "quantitative", "scale": {"domain": [-0.25, 6.75], "nice": false, "zero": false}, "axis": {"values": [0, 1, 2, 3, 4, 5], "labels": false, "title": "Time (2wk)", "titleFontSize": 14.5, "titleX": 121, "titleY": 25, "titleAlign": "center", "titleBaseline": "alphabetic", "tickSize": 5}}, "x2": {"field": "x2"},
               "y": {"field": "y", "type": "quantitative", "scale": {"domain": [200, 450], "nice": false, "zero": false}, "axis": {"values": [200, 225, 250, 275, 300, 325, 350, 375, 400, 425, 450], "labels": false, "title": null, "grid": true, "gridDash": [1, 2.5], "gridColor": "#111", "gridOpacity": {"condition": {"test": "datum.value % 50 == 0 && datum.value > 200 && datum.value < 450", "value": 1}, "value": 0}}}}},
            {"data": {"name": "sig"}, "transform": [{"filter": "datum.panel == 'D'"}], "mark": {"type": "text", "fontWeight": "bold", "fontSize": 15, "baseline": "middle"},
             "encoding": {"x": {"field": "lx", "type": "quantitative", "scale": {"domain": [-0.25, 6.75], "nice": false, "zero": false}, "axis": {"values": [0, 1, 2, 3, 4, 5], "labels": false, "title": "Time (2wk)", "titleFontSize": 14.5, "titleX": 121, "titleY": 25, "titleAlign": "center", "titleBaseline": "alphabetic", "tickSize": 5}},
               "y": {"field": "ly", "type": "quantitative", "scale": {"domain": [200, 450], "nice": false, "zero": false}, "axis": {"values": [200, 225, 250, 275, 300, 325, 350, 375, 400, 425, 450], "labels": false, "title": null, "grid": true, "gridDash": [1, 2.5], "gridColor": "#111", "gridOpacity": {"condition": {"test": "datum.value % 50 == 0 && datum.value > 200 && datum.value < 450", "value": 1}, "value": 0}}}, "text": {"field": "label"}}},
            {"data": {"name": "series"}, "transform": [{"filter": "datum.panel == 'D'"}], "mark": {"type": "line", "color": "black", "strokeWidth": 1.1},
             "encoding": {"x": {"field": "t", "type": "quantitative", "scale": {"domain": [-0.25, 6.75], "nice": false, "zero": false}, "axis": {"values": [0, 1, 2, 3, 4, 5], "labels": false, "title": "Time (2wk)", "titleFontSize": 14.5, "titleX": 121, "titleY": 25, "titleAlign": "center", "titleBaseline": "alphabetic", "tickSize": 5}},
               "y": {"field": "v", "type": "quantitative", "scale": {"domain": [200, 450], "nice": false, "zero": false}, "axis": {"values": [200, 225, 250, 275, 300, 325, 350, 375, 400, 425, 450], "labels": false, "title": null, "grid": true, "gridDash": [1, 2.5], "gridColor": "#111", "gridOpacity": {"condition": {"test": "datum.value % 50 == 0 && datum.value > 200 && datum.value < 450", "value": 1}, "value": 0}}},
               "detail": {"field": "series"}}},
            {"data": {"name": "series"}, "transform": [{"filter": "datum.panel == 'D'"}], "mark": {"type": "rule", "color": "black", "strokeWidth": 1.2},
             "encoding": {"x": {"field": "t", "type": "quantitative", "scale": {"domain": [-0.25, 6.75], "nice": false, "zero": false}, "axis": {"values": [0, 1, 2, 3, 4, 5], "labels": false, "title": "Time (2wk)", "titleFontSize": 14.5, "titleX": 121, "titleY": 25, "titleAlign": "center", "titleBaseline": "alphabetic", "tickSize": 5}},
               "y": {"field": "lo", "type": "quantitative", "scale": {"domain": [200, 450], "nice": false, "zero": false}, "axis": {"values": [200, 225, 250, 275, 300, 325, 350, 375, 400, 425, 450], "labels": false, "title": null, "grid": true, "gridDash": [1, 2.5], "gridColor": "#111", "gridOpacity": {"condition": {"test": "datum.value % 50 == 0 && datum.value > 200 && datum.value < 450", "value": 1}, "value": 0}}}, "y2": {"field": "v"}}},
            {"data": {"name": "series"}, "transform": [{"filter": "datum.panel == 'D'"}], "mark": {"type": "tick", "orient": "horizontal", "color": "black", "size": 8, "thickness": 1.2},
             "encoding": {"x": {"field": "t", "type": "quantitative", "scale": {"domain": [-0.25, 6.75], "nice": false, "zero": false}, "axis": {"values": [0, 1, 2, 3, 4, 5], "labels": false, "title": "Time (2wk)", "titleFontSize": 14.5, "titleX": 121, "titleY": 25, "titleAlign": "center", "titleBaseline": "alphabetic", "tickSize": 5}},
               "y": {"field": "lo", "type": "quantitative", "scale": {"domain": [200, 450], "nice": false, "zero": false}, "axis": {"values": [200, 225, 250, 275, 300, 325, 350, 375, 400, 425, 450], "labels": false, "title": null, "grid": true, "gridDash": [1, 2.5], "gridColor": "#111", "gridOpacity": {"condition": {"test": "datum.value % 50 == 0 && datum.value > 200 && datum.value < 450", "value": 1}, "value": 0}}}}},
            {"data": {"name": "series"}, "transform": [{"filter": "datum.panel == 'D'"}], "mark": {"type": "point", "filled": true, "size": 90, "stroke": "black", "strokeWidth": 1.4, "opacity": 1},
             "encoding": {"x": {"field": "t", "type": "quantitative", "scale": {"domain": [-0.25, 6.75], "nice": false, "zero": false}, "axis": {"values": [0, 1, 2, 3, 4, 5], "labels": false, "title": "Time (2wk)", "titleFontSize": 14.5, "titleX": 121, "titleY": 25, "titleAlign": "center", "titleBaseline": "alphabetic", "tickSize": 5}},
               "y": {"field": "v", "type": "quantitative", "scale": {"domain": [200, 450], "nice": false, "zero": false}, "axis": {"values": [200, 225, 250, 275, 300, 325, 350, 375, 400, 425, 450], "labels": false, "title": null, "grid": true, "gridDash": [1, 2.5], "gridColor": "#111", "gridOpacity": {"condition": {"test": "datum.value % 50 == 0 && datum.value > 200 && datum.value < 450", "value": 1}, "value": 0}}},
               "shape": {"field": "series", "type": "nominal", "scale": {"domain": ["TMN-AL", "TMN-CR", "COOL-AL", "COOL-CR"], "range": ["triangle-up", "triangle-up", "circle", "circle"]}, "legend": null},
               "fill": {"field": "series", "type": "nominal", "scale": {"domain": ["TMN-AL", "TMN-CR", "COOL-AL", "COOL-CR"], "range": ["black", "white", "black", "white"]}, "legend": null}}},
            {"data": {"name": "notes"}, "transform": [{"filter": "datum.panel == 'D' && datum.kind == 'panel'"}], "mark": {"type": "text", "fontWeight": "bold", "fontSize": 12, "align": "left", "baseline": "alphabetic"},
             "encoding": {"x": {"field": "x", "type": "quantitative", "scale": {"domain": [-0.25, 6.75], "nice": false, "zero": false}, "axis": {"values": [0, 1, 2, 3, 4, 5], "labels": false, "title": "Time (2wk)", "titleFontSize": 14.5, "titleX": 121, "titleY": 25, "titleAlign": "center", "titleBaseline": "alphabetic", "tickSize": 5}},
               "y": {"field": "y", "type": "quantitative", "scale": {"domain": [200, 450], "nice": false, "zero": false}, "axis": {"values": [200, 225, 250, 275, 300, 325, 350, 375, 400, 425, 450], "labels": false, "title": null, "grid": true, "gridDash": [1, 2.5], "gridColor": "#111", "gridOpacity": {"condition": {"test": "datum.value % 50 == 0 && datum.value > 200 && datum.value < 450", "value": 1}, "value": 0}}}, "text": {"field": "text"}}},
            {"data": {"name": "notes"}, "transform": [{"filter": "datum.panel == 'D' && datum.kind == 'baseAxis'"}], "mark": {"type": "text", "fontSize": 11, "align": "center", "baseline": "top"},
             "encoding": {"x": {"field": "x", "type": "quantitative", "scale": {"domain": [-0.25, 6.75], "nice": false, "zero": false}, "axis": {"values": [0, 1, 2, 3, 4, 5], "labels": false, "title": "Time (2wk)", "titleFontSize": 14.5, "titleX": 121, "titleY": 25, "titleAlign": "center", "titleBaseline": "alphabetic", "tickSize": 5}},
               "y": {"field": "y", "type": "quantitative", "scale": {"domain": [200, 450], "nice": false, "zero": false}, "axis": {"values": [200, 225, 250, 275, 300, 325, 350, 375, 400, 425, 450], "labels": false, "title": null, "grid": true, "gridDash": [1, 2.5], "gridColor": "#111", "gridOpacity": {"condition": {"test": "datum.value % 50 == 0 && datum.value > 200 && datum.value < 450", "value": 1}, "value": 0}}}, "text": {"field": "text"}}},
            {"data": {"name": "notes"}, "transform": [{"filter": "datum.panel == 'D' && datum.kind == 'yearAxis'"}], "mark": {"type": "text", "fontSize": 14, "align": "right", "baseline": "top", "lineBreak": "\n", "lineHeight": 15},
             "encoding": {"x": {"field": "x", "type": "quantitative", "scale": {"domain": [-0.25, 6.75], "nice": false, "zero": false}, "axis": {"values": [0, 1, 2, 3, 4, 5], "labels": false, "title": "Time (2wk)", "titleFontSize": 14.5, "titleX": 121, "titleY": 25, "titleAlign": "center", "titleBaseline": "alphabetic", "tickSize": 5}},
               "y": {"field": "y", "type": "quantitative", "scale": {"domain": [200, 450], "nice": false, "zero": false}, "axis": {"values": [200, 225, 250, 275, 300, 325, 350, 375, 400, 425, 450], "labels": false, "title": null, "grid": true, "gridDash": [1, 2.5], "gridColor": "#111", "gridOpacity": {"condition": {"test": "datum.value % 50 == 0 && datum.value > 200 && datum.value < 450", "value": 1}, "value": 0}}}, "text": {"field": "text"}}},
            {"data": {"name": "notes"}, "transform": [{"filter": "datum.panel == 'D' && datum.kind == 'break'"}], "mark": {"type": "text", "fontSize": 14, "align": "center", "baseline": "middle"},
             "encoding": {"x": {"field": "x", "type": "quantitative", "scale": {"domain": [-0.25, 6.75], "nice": false, "zero": false}, "axis": {"values": [0, 1, 2, 3, 4, 5], "labels": false, "title": "Time (2wk)", "titleFontSize": 14.5, "titleX": 121, "titleY": 25, "titleAlign": "center", "titleBaseline": "alphabetic", "tickSize": 5}},
               "y": {"field": "y", "type": "quantitative", "scale": {"domain": [200, 450], "nice": false, "zero": false}, "axis": {"values": [200, 225, 250, 275, 300, 325, 350, 375, 400, 425, 450], "labels": false, "title": null, "grid": true, "gridDash": [1, 2.5], "gridColor": "#111", "gridOpacity": {"condition": {"test": "datum.value % 50 == 0 && datum.value > 200 && datum.value < 450", "value": 1}, "value": 0}}}, "text": {"field": "text"}}}
          ]
        }
      ]
    },
    {
      "spacing": 0,
      "hconcat": [
        {"width": 27, "height": 18, "view": {"stroke": null}, "data": {"values": []}, "mark": "point"},
        {
          "width": 480, "height": 18,
          "view": {"stroke": "#333", "strokeWidth": 1.2},
          "data": {"name": "legendItems"},
          "encoding": {"x": {"field": "series", "type": "nominal", "sort": ["TMN-AL", "TMN-CR", "COOL-AL", "COOL-CR"], "scale": {"paddingInner": 0, "paddingOuter": 0}, "axis": null}},
          "layer": [
            {"mark": {"type": "tick", "orient": "horizontal", "size": 31, "thickness": 1.2, "color": "black", "xOffset": -34}},
            {"mark": {"type": "point", "filled": true, "size": 90, "stroke": "black", "strokeWidth": 1.4, "opacity": 1, "xOffset": -34},
             "encoding": {
               "shape": {"field": "series", "type": "nominal", "scale": {"domain": ["TMN-AL", "TMN-CR", "COOL-AL", "COOL-CR"], "range": ["triangle-up", "triangle-up", "circle", "circle"]}, "legend": null},
               "fill": {"field": "series", "type": "nominal", "scale": {"domain": ["TMN-AL", "TMN-CR", "COOL-AL", "COOL-CR"], "range": ["black", "white", "black", "white"]}, "legend": null}}},
            {"mark": {"type": "text", "align": "left", "baseline": "middle", "fontSize": 14.5, "xOffset": -13, "dy": 1},
             "encoding": {"text": {"field": "series"}}}
          ]
        }
      ]
    }
  ]
}
